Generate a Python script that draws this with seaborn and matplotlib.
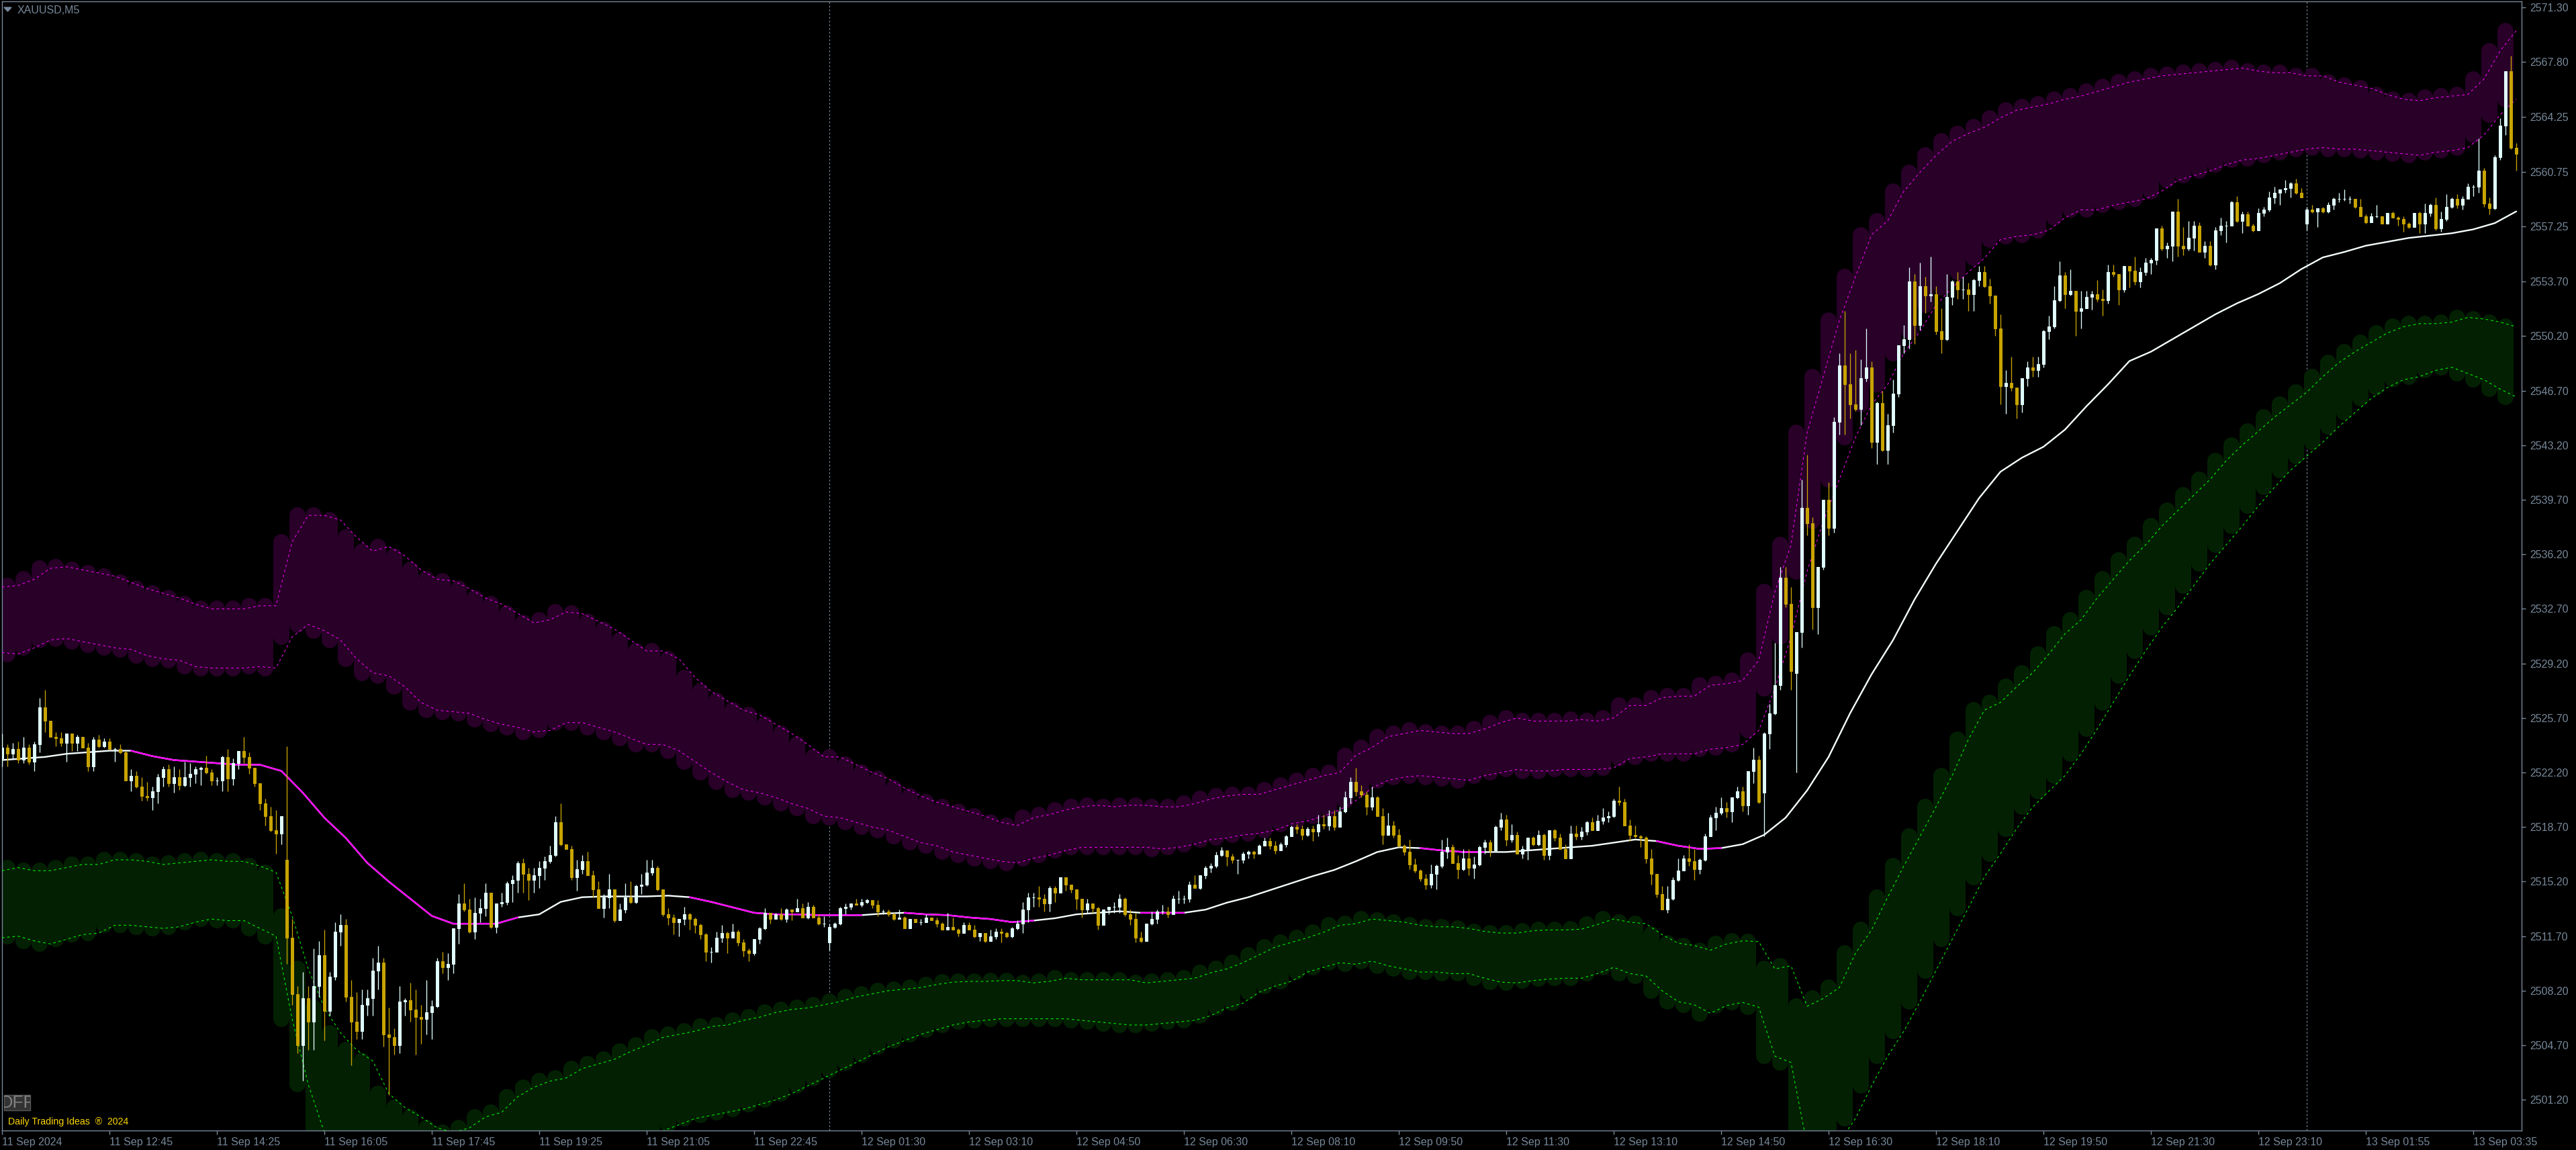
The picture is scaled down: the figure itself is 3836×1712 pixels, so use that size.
import matplotlib
matplotlib.use('Agg')
import matplotlib.pyplot as plt
from matplotlib.patches import Rectangle, Polygon
import numpy as np
import pandas as pd
import seaborn as sns

# prices are kept as offsets from this base
PRICE_BASE = 2500

closes = [
    23.8,23.4,23.7,23.0,23.8,22.9,24.0,26.4,25.5,24.5,
    24.4,24.1,24.7,24.1,24.5,23.8,22.6,24.3,23.9,24.2,
    23.7,23.7,23.5,21.7,22.0,21.3,20.7,20.6,21.0,21.9,
    22.4,21.5,21.9,21.4,21.9,22.1,22.4,22.5,22.2,21.7,
    21.7,23.2,21.8,22.8,23.6,23.2,22.5,21.5,20.2,19.4,
    18.5,18.3,19.4,11.6,8.0,4.7,7.7,6.2,8.5,10.5,
    6.9,9.1,12.0,12.4,7.8,6.2,5.6,7.3,7.7,9.5,
    10.0,5.4,5.2,4.7,7.5,7.6,7.0,6.5,6.4,6.8,
    7.2,10.1,9.7,9.9,12.2,13.8,13.4,12.0,13.2,13.5,
    14.5,12.3,13.8,13.9,15.1,15.3,16.4,15.7,15.3,15.6,
    16.1,16.5,16.9,19.0,17.6,17.3,15.5,16.0,16.5,15.6,
    14.7,13.5,14.2,14.7,12.7,13.4,14.2,13.9,14.9,15.0,
    15.8,16.1,14.7,13.1,12.9,12.6,12.8,13.1,12.8,12.4,
    11.8,10.7,10.7,11.6,11.9,11.6,12.0,11.3,10.8,10.6,
    11.5,12.2,13.2,12.8,13.1,12.8,13.4,13.3,13.5,12.9,
    13.6,12.9,12.5,12.5,12.3,12.5,13.5,13.6,13.8,13.7,
    13.9,14.0,13.7,13.3,13.3,13.1,12.8,12.9,12.2,12.8,
    12.6,12.6,12.9,12.7,12.5,12.1,12.3,12.1,11.9,12.4,
    12.1,11.7,11.9,11.4,11.7,12.0,11.9,11.7,12.2,12.5,
    13.4,14.2,14.2,14.1,13.8,14.8,14.5,15.5,15.0,14.7,
    14.1,13.4,13.8,13.5,12.4,13.4,13.6,13.6,14.1,13.1,
    12.8,11.6,11.4,12.5,12.8,13.3,13.3,13.1,14.1,14.1,
    14.1,15.0,14.8,15.6,16.1,16.2,16.9,17.2,16.8,16.6,
    16.6,17.0,17.1,17.0,17.5,17.8,17.5,17.2,17.6,18.1,
    18.7,18.6,18.2,18.6,18.4,18.9,18.8,19.4,18.7,19.7,
    20.6,21.6,21.0,20.8,20.0,20.6,19.4,18.2,18.8,18.2,
    17.5,17.1,16.3,15.9,15.4,15.0,15.7,16.2,17.1,17.4,
    16.4,16.0,16.7,16.1,16.3,17.4,17.7,17.2,18.7,19.2,
    17.9,18.2,17.0,17.3,18.0,17.6,18.2,16.9,18.5,18.0,
    17.3,16.7,18.3,18.1,18.4,19.0,18.5,19.1,19.3,19.4,
    20.4,20.3,18.8,18.2,18.1,18.0,16.7,15.7,14.4,13.4,
    14.1,15.3,15.9,16.7,16.5,16.0,16.6,18.1,19.3,19.6,
    19.9,19.7,20.6,21.0,20.1,22.3,23.0,20.3,24.7,26.0,
    27.8,34.7,33.0,28.7,31.2,39.2,38.2,32.8,35.4,39.7,
    37.9,44.7,48.3,47.1,45.8,45.5,47.5,48.2,43.4,45.9,
    42.9,44.5,46.5,49.6,50.0,53.7,50.9,53.4,52.8,52.9,
    50.5,50.0,52.7,53.7,53.2,53.2,52.9,53.8,54.3,53.4,
    52.8,50.7,47.0,47.2,46.9,45.8,47.5,48.2,48.0,48.4,
    50.5,50.8,52.5,54.1,52.9,53.1,51.8,52.0,52.7,52.9,
    52.6,52.5,54.3,54.2,53.2,54.7,54.4,53.7,54.3,54.9,
    55.1,57.1,55.8,56.0,58.2,56.0,55.8,56.5,57.3,55.6,
    56.0,54.8,57.0,57.3,57.3,58.8,57.6,58.0,57.3,57.0,
    58.1,58.3,59.1,59.4,59.6,59.7,60.0,59.4,59.1,58.3,
    58.2,58.4,58.2,58.6,59.0,59.0,59.0,59.0,58.5,57.9,
    57.5,57.9,57.9,57.4,58.1,57.8,57.7,57.4,57.2,58.1,
    57.4,58.1,58.6,57.1,57.7,58.5,59.0,58.6,59.0,59.8,
    59.8,60.8,58.7,58.4,61.7,63.7,67.2,62.3,61.9,
]
highs = [
    24.7,24.0,24.1,24.2,24.5,24.0,24.2,27.0,27.5,25.5,
    24.8,24.8,24.7,24.7,24.6,24.5,24.1,24.5,24.6,24.4,
    24.4,23.8,24.0,23.6,22.4,22.3,21.9,21.6,21.3,22.1,
    22.6,22.7,22.6,22.4,22.9,22.8,22.6,22.6,23.3,22.4,
    21.9,23.3,23.7,23.1,23.6,24.5,23.5,22.5,21.5,20.5,
    20.0,19.8,19.4,23.9,12.8,8.5,9.4,8.5,10.9,11.4,
    12.1,9.4,12.6,13.1,12.8,8.9,8.1,8.3,8.3,10.3,
    11.1,10.3,7.1,5.8,8.5,7.7,8.7,8.3,7.3,8.9,
    7.6,10.3,10.7,10.6,12.2,14.4,15.1,14.1,14.2,14.1,
    15.1,14.5,13.8,14.5,15.2,15.6,16.5,16.7,16.1,16.1,
    16.5,16.8,17.5,19.4,20.2,17.6,17.5,16.6,16.9,17.1,
    15.9,15.2,14.4,15.7,14.7,13.8,15.1,15.2,15.0,15.7,
    16.6,16.6,16.2,14.7,13.5,13.1,12.8,13.6,13.2,12.9,
    12.5,11.9,11.0,12.0,12.4,12.0,12.5,12.1,11.5,10.9,
    11.5,12.3,13.5,13.2,13.2,13.5,13.5,13.4,14.1,13.8,
    13.9,13.7,13.1,13.0,12.5,12.6,13.6,13.8,13.8,14.1,
    14.1,14.1,14.0,14.0,13.4,13.4,13.2,13.4,13.0,12.8,
    12.8,12.8,13.1,12.9,12.9,12.6,13.2,12.9,12.2,12.6,
    12.6,12.4,11.9,11.9,12.1,12.2,12.2,12.0,12.3,12.7,
    13.9,14.5,14.5,14.9,14.4,14.9,14.9,15.5,15.5,15.0,
    14.7,14.1,14.1,13.8,13.6,13.4,13.6,13.9,14.4,14.2,
    13.4,13.2,12.0,12.5,13.3,13.4,13.7,13.6,14.3,14.6,
    14.3,15.2,15.6,15.6,16.2,16.4,17.1,17.4,17.2,17.0,
    16.6,17.1,17.2,17.2,17.6,18.0,18.0,17.8,17.7,18.2,
    18.8,18.9,18.8,18.7,18.8,19.5,19.5,19.8,19.8,20.0,
    21.0,21.9,22.5,21.4,21.0,21.3,20.7,19.9,19.6,19.1,
    18.6,17.6,17.9,16.7,16.0,15.7,16.3,16.3,17.9,18.0,
    17.6,16.9,17.3,17.3,16.8,17.5,17.9,17.9,18.8,19.6,
    19.5,18.9,18.4,17.5,18.0,18.1,18.5,18.3,18.5,18.6,
    18.3,17.6,18.8,18.8,18.7,19.1,19.3,19.5,19.9,19.7,
    20.5,21.3,20.5,19.2,18.8,18.2,18.1,17.3,15.7,14.9,
    14.9,15.5,16.7,16.9,17.6,17.3,16.7,18.3,19.5,20.0,
    20.6,20.3,20.6,21.3,21.3,22.3,23.8,23.3,24.8,26.6,
    30.5,35.4,35.4,34.1,31.2,41.0,42.6,38.6,35.4,39.7,
    40.8,45.0,49.1,51.8,49.1,49.3,48.7,50.7,48.6,46.0,
    46.7,45.2,47.4,49.6,50.9,54.6,54.2,54.9,54.0,55.3,
    53.4,52.0,54.2,53.8,54.3,54.0,53.6,53.9,54.7,54.7,
    53.9,52.8,51.6,48.0,48.9,46.9,47.5,48.6,48.9,48.9,
    50.6,51.5,53.4,55.0,54.3,54.5,53.1,53.1,53.1,53.1,
    53.8,53.2,54.8,54.8,54.2,54.7,54.6,55.3,54.6,55.2,
    55.2,57.1,57.3,56.2,58.2,59.0,57.2,57.6,57.6,57.5,
    56.3,56.3,57.2,57.8,57.6,58.9,59.2,58.2,58.2,57.4,
    58.4,58.5,59.5,59.8,59.6,60.2,60.1,60.3,59.7,58.5,
    58.6,58.4,58.5,58.8,59.1,59.4,59.6,59.2,59.0,59.0,
    58.0,58.1,58.6,57.9,58.1,58.2,57.9,57.9,57.5,58.1,
    58.2,58.7,58.7,59.1,58.2,59.3,59.1,59.3,59.2,60.0,
    59.9,62.9,61.0,59.1,61.8,64.2,67.2,68.2,62.6,
]
lows = [
    22.6,22.6,23.1,22.8,22.8,22.7,22.3,23.5,24.8,24.5,
    23.9,23.9,22.9,23.6,23.6,23.8,22.3,22.3,23.8,23.8,
    23.7,22.9,23.4,21.7,21.0,21.2,20.4,20.4,19.8,20.2,
    21.3,21.3,20.9,21.1,21.3,21.3,21.5,21.4,22.1,21.4,
    21.4,21.0,21.0,21.4,22.4,22.8,22.1,21.3,19.8,18.8,
    18.4,17.0,17.6,9.9,7.3,4.2,2.4,4.4,4.4,7.8,
    5.0,6.6,8.9,11.1,7.5,3.4,5.1,5.1,6.6,6.6,
    8.3,4.6,1.5,4.1,4.2,6.6,6.2,4.1,4.8,5.4,
    5.1,7.1,9.3,8.9,9.3,11.2,13.3,11.9,11.5,12.6,
    13.0,12.2,11.9,13.6,13.7,13.9,14.5,14.5,14.0,14.5,
    14.8,15.3,16.4,16.8,17.5,17.3,15.3,14.6,15.7,15.6,
    14.2,13.5,12.9,13.5,12.6,12.7,13.2,13.8,13.8,14.4,
    14.9,15.6,14.6,13.0,12.4,11.8,11.7,12.4,12.1,11.9,
    11.5,10.1,10.0,10.7,11.3,10.6,11.6,11.1,10.4,10.1,
    10.5,11.2,12.1,12.5,12.8,12.7,12.6,12.7,13.3,12.9,
    12.8,12.9,12.4,12.3,10.8,12.2,12.4,13.1,13.4,13.7,
    13.6,13.8,13.5,13.0,13.1,13.0,12.7,12.8,12.2,12.2,
    12.6,12.4,12.6,12.7,12.3,12.1,12.1,12.1,11.7,11.9,
    12.1,11.6,11.4,11.3,11.4,11.5,11.3,11.6,11.6,12.1,
    11.9,12.6,13.6,13.6,13.3,13.3,13.9,14.5,14.6,14.5,
    13.4,12.9,13.2,13.2,12.1,12.4,13.1,13.2,13.2,13.0,
    12.4,11.3,11.3,11.4,12.4,12.5,13.1,12.9,13.1,13.8,
    13.8,13.9,14.8,14.7,15.4,15.8,16.1,16.8,16.2,16.4,
    15.7,16.4,16.7,16.7,17.0,17.5,17.3,17.0,17.2,17.4,
    18.1,18.3,17.9,18.1,17.8,18.1,18.6,18.5,18.5,18.7,
    19.6,20.2,20.7,20.6,19.5,19.8,19.4,17.6,18.2,18.0,
    17.4,16.9,16.0,15.8,15.2,14.7,14.8,14.7,16.1,16.7,
    16.4,15.4,15.9,15.6,15.4,16.2,17.0,16.8,17.2,18.5,
    17.5,17.7,17.0,16.7,16.6,17.5,17.5,16.6,16.6,17.8,
    17.3,16.7,16.7,17.9,17.9,18.2,18.5,18.5,18.9,19.0,
    19.3,20.1,18.8,17.8,18.0,17.4,16.4,15.0,14.2,13.4,
    13.2,14.0,15.2,15.9,16.2,15.3,15.7,16.5,18.1,18.5,
    19.5,19.3,19.0,20.5,19.7,19.5,21.5,20.2,18.1,23.7,
    25.9,27.5,32.8,27.5,22.2,30.2,37.4,31.4,31.1,35.2,
    37.4,37.6,43.9,43.9,44.9,45.4,44.5,47.3,43.0,42.0,
    42.8,42.0,44.0,46.3,49.1,49.4,49.7,50.6,51.7,52.4,
    50.3,49.1,49.9,52.2,52.6,52.6,51.8,51.8,53.4,53.3,
    52.3,50.2,45.8,45.2,46.7,44.9,45.3,47.0,47.6,47.6,
    48.2,50.0,50.7,52.4,52.0,52.8,50.2,50.7,52.0,51.9,
    52.4,51.5,52.3,54.0,52.2,53.0,53.3,53.5,53.3,54.1,
    54.2,54.8,55.7,55.2,55.0,55.3,55.4,55.7,55.7,55.6,
    55.2,54.7,54.5,56.7,56.2,57.3,57.5,56.8,57.3,56.9,
    57.0,57.9,58.2,58.7,58.6,59.4,59.1,59.3,59.1,57.0,
    58.1,57.2,58.1,58.1,58.3,58.8,58.9,58.7,58.4,57.9,
    57.4,57.5,57.8,57.4,57.5,57.8,57.3,56.9,57.1,57.2,
    56.8,56.8,57.9,57.0,56.9,57.6,58.4,58.4,58.3,59.0,
    59.2,59.4,58.5,58.0,58.3,61.5,63.1,62.2,60.8,
]
first_open = 23.1
# bars that opened away from the previous close
open_gaps = {53: 16.6, 154: 11.3, 328: 20.9, 334: 28.6, 429: 57.4}

# middle average, one value every 4 bars
ma_values = [
    23.0,23.1,23.2,23.4,23.5,23.6,23.6,23.25,23.0,22.9,
    22.8,22.7,22.7,22.3,20.9,19.3,18.0,16.4,15.2,14.1,
    13.0,12.5,12.5,12.5,12.9,13.1,13.9,14.2,14.25,14.25,
    14.25,14.3,14.2,13.9,13.55,13.2,13.1,13.1,13.05,13.05,
    13.05,13.15,13.2,13.1,13.05,12.9,12.8,12.6,12.7,12.85,
    13.1,13.2,13.3,13.2,13.2,13.2,13.4,13.85,14.2,14.65,
    15.1,15.55,15.95,16.5,17.1,17.4,17.35,17.2,17.1,17.1,
    17.1,17.2,17.3,17.4,17.5,17.7,17.9,17.8,17.5,17.3,
    17.35,17.6,18.2,19.3,21.05,23.2,26.0,28.5,30.7,33.3,
    35.6,37.7,39.8,41.5,42.4,43.1,44.2,45.7,47.1,48.6,
    49.2,50.0,50.8,51.6,52.3,52.9,53.6,54.5,55.25,55.6,
    56.0,56.25,56.5,56.65,56.8,57.05,57.45,58.2,
]
# bar ranges where the average is falling (drawn magenta)
ma_falling = [(24, 96), (128, 160), (168, 192), (212, 220), (264, 276), (308, 320)]

# bands, one value every 3 bars
upper_top = [
    34.1,34.2,34.6,35.3,35.4,35.2,35.0,34.8,34.4,34.0,
    33.7,33.4,33.0,32.7,32.7,32.7,32.9,32.9,37.0,38.7,
    38.7,38.4,37.3,36.4,36.7,36.1,35.2,34.6,34.5,34.0,
    33.4,33.0,32.4,31.8,32.0,32.5,32.4,31.9,31.4,30.7,
    30.0,30.0,29.5,28.3,27.4,26.8,26.2,25.9,25.3,24.7,
    24.0,23.2,23.2,22.7,22.2,21.8,21.2,20.7,20.3,20.0,
    19.7,19.4,19.0,18.8,19.3,19.5,19.8,20.0,20.1,20.0,
    20.1,20.1,20.0,20.0,20.2,20.5,20.7,20.8,20.8,21.1,
    21.4,21.7,22.0,22.2,23.3,23.8,24.5,24.7,24.9,24.8,
    24.7,24.7,25.0,25.4,25.7,25.5,25.5,25.5,25.6,25.5,
    25.7,26.5,26.5,27.0,27.1,27.1,27.8,27.9,28.1,29.4,
    33.8,36.8,44.0,47.6,51.2,54.0,56.7,57.6,59.5,60.7,
    61.8,62.7,63.2,63.6,64.2,64.7,64.9,65.1,65.4,65.6,
    65.9,66.2,66.5,66.7,66.9,67.0,67.1,67.2,67.3,67.4,
    67.2,67.1,67.1,66.9,66.9,66.5,66.3,66.1,65.7,65.4,
    65.3,65.5,65.6,65.7,66.7,68.5,69.8,
]
upper_bottom = [
    29.9,29.8,30.2,30.7,30.8,30.6,30.4,30.2,30.1,29.7,
    29.5,29.4,29.0,28.9,28.9,28.9,29.0,28.9,30.9,31.7,
    31.3,30.7,29.5,28.6,28.4,27.7,26.7,26.2,26.1,26.0,
    25.6,25.3,25.1,24.8,24.9,25.4,25.4,25.1,24.8,24.4,
    24.0,24.0,23.6,22.9,22.2,21.6,21.1,20.9,20.6,20.2,
    19.9,19.4,19.3,19.0,18.7,18.5,18.1,17.7,17.5,17.1,
    16.9,16.7,16.5,16.4,16.7,16.9,17.2,17.4,17.4,17.4,
    17.4,17.4,17.3,17.4,17.6,17.9,18.0,18.2,18.3,18.5,
    18.9,19.1,19.4,19.8,20.4,21.2,21.7,21.9,22.0,21.9,
    21.8,21.7,22.0,22.2,22.4,22.3,22.3,22.4,22.4,22.4,
    22.5,23.1,23.2,23.4,23.4,23.4,23.7,23.8,24.0,24.9,
    27.6,30.9,35.1,38.3,41.0,43.7,45.8,47.1,49.1,50.5,
    52.2,53.3,54.3,55.2,56.4,56.6,56.7,57.0,57.8,58.3,
    58.3,58.6,58.8,59.0,59.5,60.2,60.5,60.8,61.2,61.5,
    61.6,61.8,62.0,62.2,62.3,62.2,62.2,62.1,62.0,61.9,
    61.8,62.0,62.1,62.3,63.1,64.4,65.4,
]
lower_top = [
    15.9,16.1,15.9,15.9,16.1,16.3,16.3,16.6,16.6,16.5,
    16.3,16.4,16.5,16.6,16.5,16.5,16.2,15.8,13.0,9.6,
    7.1,5.5,4.4,3.7,1.6,0.7,0.1,-0.6,-0.9,-0.6,
    0.1,0.4,1.4,2.0,2.4,2.6,3.2,3.5,3.8,4.3,
    4.7,5.2,5.4,5.6,5.9,6.0,6.3,6.5,6.8,7.0,
    7.1,7.3,7.5,7.8,8.0,8.2,8.3,8.4,8.6,8.75,
    8.8,8.8,8.85,8.85,8.7,8.8,9.0,8.9,8.9,8.9,
    8.9,8.7,8.8,8.9,9.0,9.35,9.6,10.0,10.5,11.0,
    11.3,11.6,11.95,12.4,12.5,12.8,12.7,12.6,12.4,12.3,
    12.3,12.2,12.0,11.9,11.9,12.05,12.1,12.1,12.15,12.45,
    12.8,12.6,12.5,11.8,11.25,11.1,10.8,11.2,11.4,11.35,
    9.6,9.8,7.2,7.7,8.4,10.6,12.1,14.2,16.2,18.1,
    20.0,22.0,24.3,26.2,26.7,27.7,28.6,29.8,31.1,32.0,
    33.4,34.6,35.8,36.8,38.0,39.0,40.0,41.0,42.2,43.2,
    44.1,45.0,45.8,46.6,47.6,48.5,49.2,49.8,50.4,50.8,
    51.0,51.0,51.1,51.4,51.3,51.1,50.8,
]
lower_bottom = [
    11.6,11.7,11.4,11.2,11.5,11.8,11.9,12.4,12.4,12.3,
    12.2,12.3,12.6,12.8,12.7,12.7,12.2,11.7,6.4,2.2,
    -0.9,-3.0,-5.0,-6.0,-7.0,-7.5,-8.0,-8.0,-8.0,-7.5,
    -7.0,-6.5,-6.0,-5.5,-5.0,-4.5,-4.0,-3.5,-3.0,-2.5,
    -1.5,-0.8,-0.4,0.0,0.2,0.4,0.6,0.9,1.2,1.6,
    2.1,2.6,3.1,3.6,4.1,4.6,5.0,5.4,5.7,6.0,
    6.2,6.3,6.4,6.4,6.4,6.4,6.4,6.3,6.2,6.1,
    6.0,6.0,6.1,6.2,6.3,6.6,7.1,7.4,8.1,8.5,
    8.8,9.4,9.7,10.0,9.9,10.1,9.8,9.6,9.4,9.4,
    9.3,9.3,9.0,8.75,8.7,8.85,8.95,9.0,9.0,9.3,
    9.7,9.3,9.15,8.2,7.5,7.3,6.75,7.25,7.45,7.15,
    4.0,3.6,-1.7,-3.0,-1.5,0.0,2.1,4.0,5.6,7.5,
    9.5,11.5,13.5,15.5,17.0,18.6,20.0,21.0,22.0,23.4,
    25.0,26.7,28.4,30.0,31.5,32.8,34.2,35.6,36.8,38.0,
    39.3,40.5,41.6,42.5,43.4,44.4,45.3,46.2,46.9,47.4,
    47.6,48.0,48.2,47.8,47.4,46.8,46.3,
]

price_ticks = [2571.30, 2567.80, 2564.25, 2560.75, 2557.25, 2553.70, 2550.20, 2546.70, 2543.20, 2539.70, 2536.20,
               2532.70, 2529.20, 2525.70, 2522.20, 2518.70, 2515.20, 2511.70, 2508.20, 2504.70, 2501.20]
time_labels = ['11 Sep 2024', '11 Sep 12:45', '11 Sep 14:25', '11 Sep 16:05', '11 Sep 17:45', '11 Sep 19:25',
               '11 Sep 21:05', '11 Sep 22:45', '12 Sep 01:30', '12 Sep 03:10', '12 Sep 04:50', '12 Sep 06:30',
               '12 Sep 08:10', '12 Sep 09:50', '12 Sep 11:30', '12 Sep 13:10', '12 Sep 14:50', '12 Sep 16:30',
               '12 Sep 18:10', '12 Sep 19:50', '12 Sep 21:30', '12 Sep 23:10', '13 Sep 01:55', '13 Sep 03:35']
separators = [154, 429]

WIDTH, HEIGHT = 3836, 1712
AXIS_COLOR = '#778899'
BULL = '#E0FFFF'
BEAR = '#C8A400'
PURPLE_FILL = '#280028'
GREEN_FILL = '#032003'

sns.set_theme(style='dark', rc={'figure.facecolor': 'black', 'axes.facecolor': 'black'})
plt.rcParams['font.family'] = ['Liberation Sans', 'DejaVu Sans']

fig = plt.figure(figsize=(WIDTH / 100, HEIGHT / 100), dpi=100)
ax = fig.add_axes([3 / WIDTH, 1 - 1683 / HEIGHT, (3755 - 3) / WIDTH, (1683 - 2) / HEIGHT])
ax.set_facecolor('black')

close_arr = np.array(closes) + PRICE_BASE
high_arr = np.array(highs) + PRICE_BASE
low_arr = np.array(lows) + PRICE_BASE
open_arr = np.r_[first_open + PRICE_BASE, close_arr[:-1]]
for bar, val in open_gaps.items():
    open_arr[bar] = val + PRICE_BASE
bars = np.arange(len(close_arr))

for bar in separators:
    ax.axvline(bar, color=AXIS_COLOR, lw=0.8, ls=(0, (2.5, 2.5)), zorder=1)

# Bands: thick round capped columns every 3 bars, drawn 2 bars ahead of the dashed edges
band_x = np.arange(len(upper_top)) * 3
col_lw = 24 * 0.72
ax.vlines(band_x - 2, np.array(upper_bottom) + PRICE_BASE, np.array(upper_top) + PRICE_BASE,
          color=PURPLE_FILL, lw=col_lw, capstyle='round', zorder=2)
ax.vlines(band_x - 2, np.array(lower_bottom) + PRICE_BASE, np.array(lower_top) + PRICE_BASE,
          color=GREEN_FILL, lw=col_lw, capstyle='round', zorder=2)

band_df = pd.DataFrame({'bar': band_x, 'upper_top': upper_top, 'upper_bottom': upper_bottom,
                        'lower_top': lower_top, 'lower_bottom': lower_bottom})
for col, color in [('upper_top', '#FF00FF'), ('upper_bottom', '#FF00FF'),
                   ('lower_top', '#00FF00'), ('lower_bottom', '#00FF00')]:
    sns.lineplot(x=band_df['bar'], y=band_df[col] + PRICE_BASE, color=color, lw=0.75, linestyle=(0, (3.5, 4)),
                 estimator=None, sort=False, legend=False, zorder=3, ax=ax)

# Middle average
ma_df = pd.DataFrame({'bar': np.arange(len(ma_values)) * 4, 'ma': np.array(ma_values) + PRICE_BASE})
sns.lineplot(data=ma_df, x='bar', y='ma', color='#F5FFFF', lw=1.7, estimator=None, legend=False, zorder=4, ax=ax)
for start, stop in ma_falling:
    part = ma_df[(ma_df['bar'] >= start) & (ma_df['bar'] <= stop)]
    sns.lineplot(data=part, x='bar', y='ma', color='#FF00FF', lw=1.7, estimator=None, legend=False, zorder=4, ax=ax)

# Candles
colors = np.where(close_arr >= open_arr, BULL, BEAR)
ax.vlines(bars, low_arr, high_arr, colors=colors, lw=0.95, zorder=5)
ax.bar(bars, np.abs(close_arr - open_arr), bottom=np.minimum(close_arr, open_arr), width=0.56,
       color=colors, edgecolor=colors, lw=0.72, zorder=6)

ax.set_xlim(0, (3755 - 3) / 8)
ax.set_ylim(PRICE_BASE - 0.77, PRICE_BASE + 71.68)

ax.yaxis.tick_right()
ax.set_yticks(price_ticks)
ax.set_yticklabels([f'{p:.2f}' for p in price_ticks])
ax.set_xticks(np.arange(len(time_labels)) * 20)
ax.set_xticklabels(time_labels, ha='left')
ax.tick_params(axis='y', colors=AXIS_COLOR, labelsize=11.5, length=4, width=1, pad=5, right=True, left=False)
ax.tick_params(axis='x', colors=AXIS_COLOR, labelsize=11.5, length=4, width=1, pad=3, bottom=True)
ax.set_xlabel('')
ax.set_ylabel('')
ax.grid(False)
for spine in ax.spines.values():
    spine.set_color(AXIS_COLOR)
    spine.set_linewidth(1.0)
    spine.set_visible(True)


def px(x, y):
    return x / WIDTH, 1 - y / HEIGHT


# Chart header and the small overlay items
fig.text(*px(26, 15), 'XAUUSD,M5', color=AXIS_COLOR, fontsize=11.5, va='center', ha='left')
fig.add_artist(Polygon([px(6, 11), px(17, 11), px(11.5, 17)], closed=True, color=AXIS_COLOR))
button = Rectangle(px(6, 1653), 39 / WIDTH, 23 / HEIGHT, transform=fig.transFigure,
                   facecolor='#333333', edgecolor='#555555', lw=1, zorder=8)
fig.add_artist(button)
off_text = fig.text(*px(25.5, 1642), 'OFF', color='#808080', fontsize=19, va='center', ha='center', zorder=9)
off_text.set_clip_path(button)
fig.text(*px(12, 1670), 'Daily Trading Ideas  ®  2024', color='#FFD700', fontsize=10.2, va='center', ha='left')

fig.savefig('out.png', dpi=100, facecolor='black')
